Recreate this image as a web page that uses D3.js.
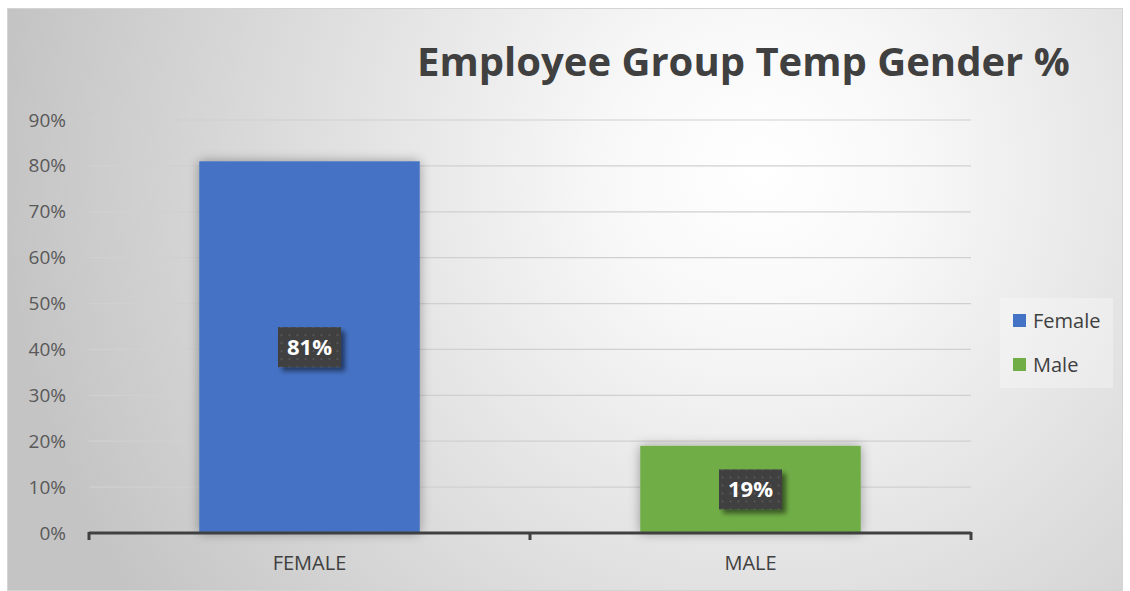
<!DOCTYPE html>
<html>
<head>
<meta charset="utf-8">
<script src="https://d3js.org/d3.v7.min.js"></script>
<style>
  body { margin: 0; background: #fff; }
  svg text { font-family: "Open Sans", "DejaVu Sans", sans-serif; }
</style>
</head>
<body>
<div id="chart"></div>
<script>
// chart values
const categories = ["FEMALE", "MALE"];
const series = ["Female", "Male"];
const values = [0.81, 0.19];
const colors = ["#4472C4", "#70AD47"];
const yTicks = [0, 0.1, 0.2, 0.3, 0.4, 0.5, 0.6, 0.7, 0.8, 0.9];
const title = "Employee Group Temp Gender %";

const W = 1130, H = 591;
const plot = {left: 89, right: 971, top: 120, bottom: 533};

const svg = d3.select("#chart").append("svg")
    .attr("width", W)
    .attr("height", H);

const defs = svg.append("defs");

// background gradient
const bg = defs.append("radialGradient")
    .attr("id", "bg")
    .attr("gradientUnits", "userSpaceOnUse")
    .attr("cx", 760).attr("cy", 170).attr("r", 760);
bg.append("stop").attr("offset", "0%").attr("stop-color", "#ffffff");
bg.append("stop").attr("offset", "20%").attr("stop-color", "#f8f8f8");
bg.append("stop").attr("offset", "100%").attr("stop-color", "#c4c4c4");

// soft shadow for bars
const sh = defs.append("filter").attr("id", "barShadow")
    .attr("x", "-20%").attr("y", "-20%").attr("width", "140%").attr("height", "140%");
sh.append("feGaussianBlur").attr("in", "SourceAlpha").attr("stdDeviation", 6).attr("result", "b");
sh.append("feComponentTransfer").attr("in", "b").attr("result", "b2")
  .append("feFuncA").attr("type", "linear").attr("slope", 0.35);
let m = sh.append("feMerge");
m.append("feMergeNode").attr("in", "b2");
m.append("feMergeNode").attr("in", "SourceGraphic");

// label box shadow
const ls = defs.append("filter").attr("id", "lblShadow")
    .attr("x", "-30%").attr("y", "-30%").attr("width", "170%").attr("height", "170%");
ls.append("feGaussianBlur").attr("in", "SourceAlpha").attr("stdDeviation", 2.5).attr("result", "b");
ls.append("feOffset").attr("in", "b").attr("dx", 4).attr("dy", 4).attr("result", "o");
ls.append("feComponentTransfer").attr("in", "o").attr("result", "o2")
  .append("feFuncA").attr("type", "linear").attr("slope", 0.5);
m = ls.append("feMerge");
m.append("feMergeNode").attr("in", "o2");
m.append("feMergeNode").attr("in", "SourceGraphic");

// dotted pattern for label boxes
const pat = defs.append("pattern").attr("id", "dots")
    .attr("patternUnits", "userSpaceOnUse").attr("width", 8).attr("height", 8);
pat.append("rect").attr("width", 8).attr("height", 8).attr("fill", "#404040");
pat.append("rect").attr("x", 3).attr("y", 3).attr("width", 2).attr("height", 2).attr("fill", "#555");

// chart area
svg.append("rect")
    .attr("x", 7.5).attr("y", 8.5)
    .attr("width", 1115).attr("height", 582)
    .attr("fill", "url(#bg)")
    .attr("stroke", "#d4d4d4");

// scales
const x = d3.scaleBand()
    .domain(categories)
    .range([plot.left, plot.right])
    .paddingInner(0.5)
    .paddingOuter(0.25);

const y = d3.scaleLinear()
    .domain([0, 0.9])
    .range([plot.bottom, plot.top]);

// gridlines
svg.append("g")
  .selectAll("line")
  .data(yTicks.slice(1))
  .join("line")
    .attr("x1", plot.left).attr("x2", plot.right)
    .attr("y1", d => y(d)).attr("y2", d => y(d))
    .attr("stroke", "#d0d0d0")
    .attr("stroke-width", 1.2);

// y axis labels
const yAxis = svg.append("g")
    .attr("transform", `translate(${plot.left},0)`)
    .call(d3.axisLeft(y).tickValues(yTicks).tickFormat(d3.format(".0%")).tickSize(0).tickPadding(23));
yAxis.select(".domain").remove();
yAxis.selectAll("text")
    .attr("fill", "#595959")
    .style("font-size", "19px")
    .style("font-family", "Open Sans, sans-serif");

// bars
svg.append("g")
  .selectAll("rect")
  .data(values)
  .join("rect")
    .attr("x", (d, i) => x(categories[i]))
    .attr("y", d => y(d))
    .attr("width", x.bandwidth())
    .attr("height", d => y(0) - y(d))
    .attr("fill", (d, i) => colors[i])
    .attr("filter", "url(#barShadow)");

// x axis
const xAxis = svg.append("g")
    .attr("transform", `translate(0,${plot.bottom})`);
xAxis.append("line")
    .attr("x1", plot.left).attr("x2", plot.right)
    .attr("stroke", "#404040").attr("stroke-width", 3);
const edges = [plot.left, plot.left + x.step() * 1, plot.right];
xAxis.selectAll("line.tk")
  .data(edges)
  .join("line")
    .attr("class", "tk")
    .attr("x1", d => d).attr("x2", d => d)
    .attr("y1", -1).attr("y2", 7)
    .attr("stroke", "#404040").attr("stroke-width", 3);
xAxis.selectAll("text")
  .data(categories)
  .join("text")
    .attr("x", d => x(d) + x.bandwidth() / 2)
    .attr("y", 37)
    .attr("text-anchor", "middle")
    .attr("fill", "#404040")
    .style("font-size", "20px")
    .text(d => d);

// data labels
const lbl = svg.append("g")
  .selectAll("g")
  .data(values)
  .join("g")
    .attr("transform", (d, i) => `translate(${x(categories[i]) + x.bandwidth() / 2},${(y(d) + y(0)) / 2})`);
lbl.append("rect")
    .attr("x", -31.5).attr("y", -20)
    .attr("width", 63).attr("height", 40)
    .attr("fill", "url(#dots)")
    .attr("filter", "url(#lblShadow)");
lbl.append("text")
    .attr("text-anchor", "middle")
    .attr("dy", "0.36em")
    .attr("fill", "#ffffff")
    .style("font-size", "22px")
    .style("font-weight", "700")
    .text(d => d3.format(".0%")(d));

// title
const t = svg.append("text")
    .attr("x", 417)
    .attr("y", 76)
    .attr("fill", "#404040")
    .style("font-size", "40px")
    .style("font-weight", "700")
    .text(title);
const tw = t.node().getComputedTextLength();
t.style("font-size", (40 * 653 / tw) + "px");

// legend
const lg = svg.append("g").attr("transform", "translate(1000,298)");
lg.append("rect")
    .attr("width", 113).attr("height", 90)
    .attr("fill", "#ffffff").attr("fill-opacity", 0.3);
const li = lg.selectAll("g")
  .data(series)
  .join("g")
    .attr("transform", (d, i) => `translate(13,${16 + i * 44})`);
li.append("rect")
    .attr("width", 13).attr("height", 13)
    .attr("fill", (d, i) => colors[i]);
li.append("text")
    .attr("x", 20).attr("y", 6.5)
    .attr("dy", "0.36em")
    .attr("fill", "#404040")
    .style("font-size", "20px")
    .text(d => d);
</script>
</body>
</html>
